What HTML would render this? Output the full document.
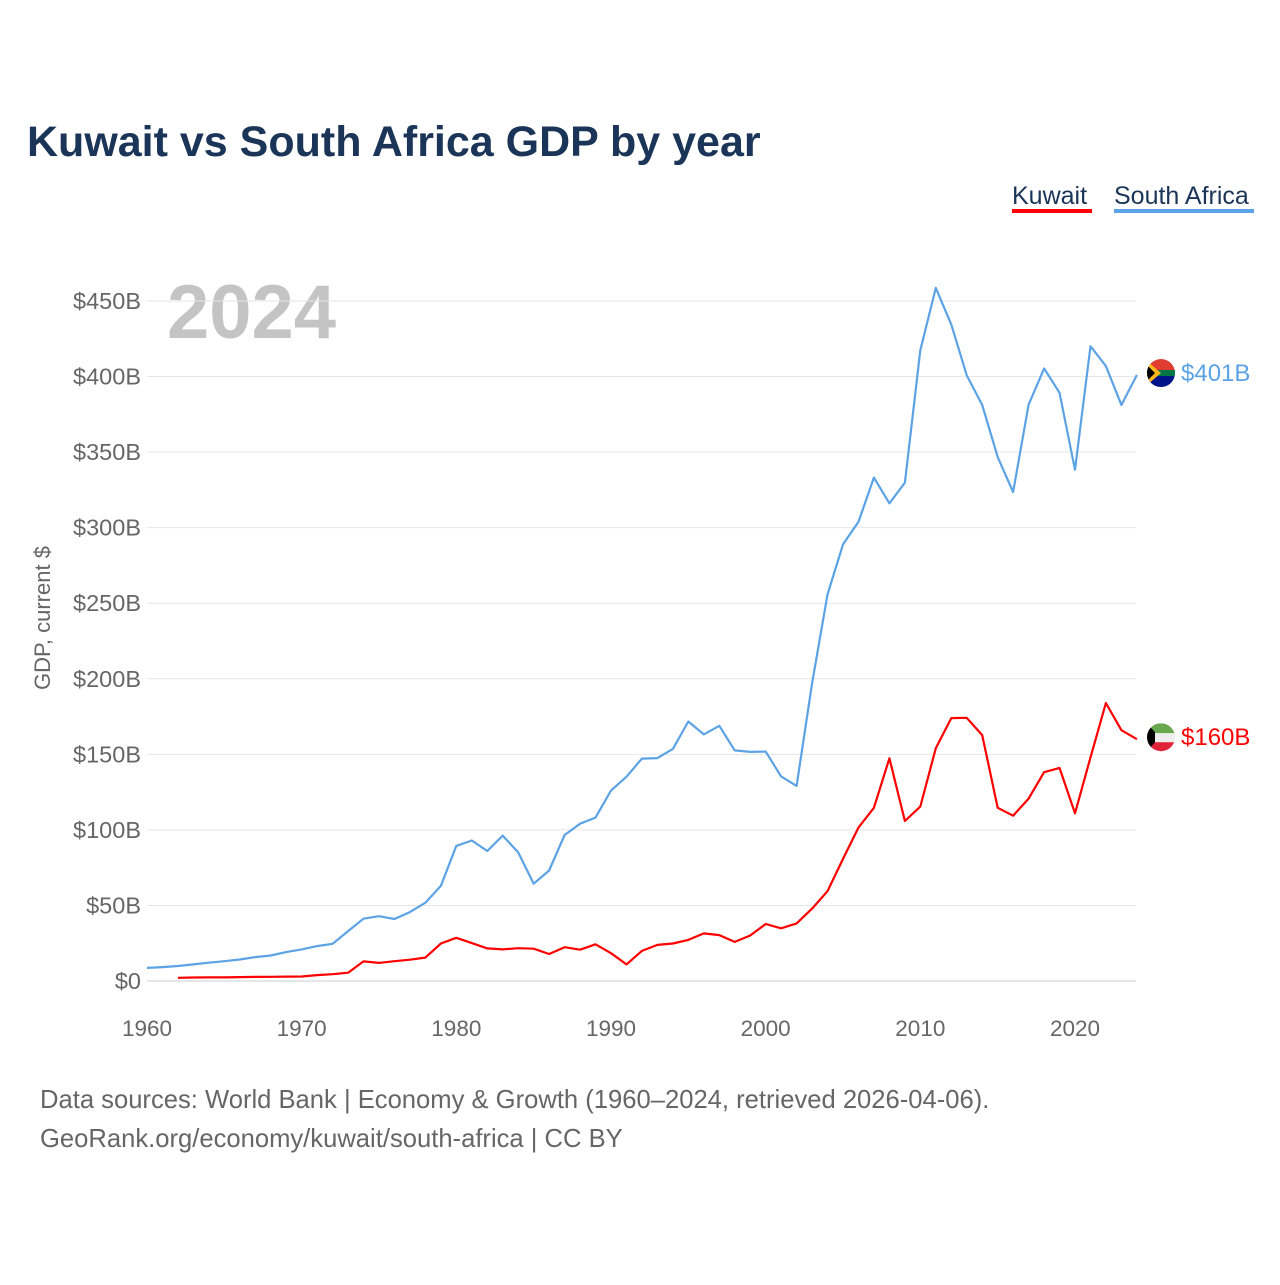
<!DOCTYPE html>
<html><head><meta charset="utf-8"><style>
body{margin:0;background:#fff;font-family:"Liberation Sans",sans-serif}
svg text{font-family:"Liberation Sans",sans-serif}
</style></head><body>
<svg id="c" width="1280" height="1280" xmlns="http://www.w3.org/2000/svg">
<text x="27" y="156" font-size="43" font-weight="bold" fill="#1a3557">Kuwait vs South Africa GDP by year</text>
<g>
<text x="1012" y="204" font-size="25" fill="#1a3557">Kuwait</text>
<rect x="1012" y="209" width="80" height="4" fill="#ff0000"/>
<text x="1114" y="204" font-size="25" fill="#1a3557">South Africa</text>
<rect x="1114" y="209" width="140" height="4" fill="#5ca3e6"/>
</g>
<text x="167" y="338" font-size="76" font-weight="bold" fill="#c4c4c4">2024</text>
<text transform="translate(50,618) rotate(-90)" text-anchor="middle" font-size="22" fill="#666">GDP, current $</text>
<g id="grid"></g><g id="yt"></g><g id="xt"></g><g id="lines"></g>
<text x="40" y="1108" font-size="25.6" fill="#666">Data sources: World Bank | Economy &amp; Growth (1960–2024, retrieved 2026-04-06).</text>
<text x="40" y="1147" font-size="25.6" fill="#666">GeoRank.org/economy/kuwait/south-africa | CC BY</text>
</svg>
<script>
const yTicks=[0,50,100,150,200,250,300,350,400,450];
const xTicks=[1960,1970,1980,1990,2000,2010,2020];
const saYears=[];for(let y=1960;y<=2024;y++)saYears.push(y);
const saValues=[8.7,9.2,9.9,11.0,12.1,13.1,14.2,15.8,16.9,19.1,20.9,23.1,24.6,33.0,41.2,42.9,41.0,45.6,51.8,63.0,89.4,93.0,86.0,96.2,85.1,64.4,73.1,96.6,104.1,108.1,126.0,135.2,147.2,147.5,153.6,171.7,163.2,168.9,152.6,151.6,151.8,135.4,129.1,197.0,255.8,288.9,303.9,333.1,316.1,329.8,417.4,458.7,434.4,400.9,381.2,346.7,323.6,381.4,405.3,389.3,338.3,420.1,406.9,381.2,401];
const kwYears=[];for(let y=1962;y<=2024;y++)kwYears.push(y);
const kwValues=[2.1,2.3,2.4,2.4,2.6,2.7,2.8,2.9,3.0,3.9,4.5,5.5,13.0,12.0,13.1,14.1,15.5,24.8,28.6,25.1,21.6,20.9,21.7,21.4,17.9,22.4,20.7,24.3,18.4,11.0,19.9,23.9,24.8,27.2,31.5,30.4,25.9,30.1,37.7,34.9,38.1,47.9,59.4,80.8,101.6,114.6,147.4,105.9,115.4,154.0,174.0,174.2,162.7,114.6,109.4,120.7,138.2,141,111,148,184,166,160];
const NS="http://www.w3.org/2000/svg";
const X=y=>147+(y-1960)*(928/60);
const Y=v=>981-v*(680/450);
function mk(t,a,p){const e=document.createElementNS(NS,t);for(const k in a)e.setAttribute(k,a[k]);p.appendChild(e);return e;}
const g=document.getElementById('grid'),yt=document.getElementById('yt'),xt=document.getElementById('xt'),L=document.getElementById('lines');
yTicks.forEach(v=>{
 const l=mk('line',{x1:147,x2:1136,y1:Y(v),y2:Y(v),stroke:v?'#e6e6e6':'#ccc','stroke-width':1},g);
 
 
 const t=mk('text',{x:141,y:Y(v)+8,'text-anchor':'end','font-size':23.5,fill:'#666'},yt);
 t.textContent=v?'$'+v+'B':'$0';
 
 
});
xTicks.forEach(v=>{
 const t=mk('text',{x:X(v),y:1036,'text-anchor':'middle','font-size':22.5,fill:'#666'},xt);
 t.textContent=v;
 
 
});
function line(ys,vs,col,name){
 const p=mk('path',{d:vs.map((v,i)=>(i?'L':'M')+X(ys[i]).toFixed(1)+','+Y(v).toFixed(1)).join(''),fill:'none',stroke:col,'stroke-width':2.2,'stroke-linejoin':'round'},L);
 
 
}
line(saYears,saValues,'#5ca3e6','south-africa-line');
line(kwYears,kwValues,'#ff0000','kuwait-line');
function endLabel(v,col,name,flag){
 const cy=Y(v)-2,cx=1161;
 const f=mk('g',{},L);
 
 
 const id='clip'+name;
 const cp=mk('clipPath',{id:id},f);mk('circle',{cx:cx,cy:cy,r:14},cp);
 const gg=mk('g',{'clip-path':'url(#'+id+')'},f);
 if(flag==='za'){
  mk('rect',{x:cx-14,y:cy-14,width:28,height:14,fill:'#e03c31'},gg);
  mk('rect',{x:cx-14,y:cy,width:28,height:14,fill:'#001489'},gg);
  mk('rect',{x:cx-14,y:cy-3,width:28,height:6,fill:'#007749'},gg);
  mk('polygon',{points:`${cx-14},${cy-12} ${cx},${cy} ${cx-14},${cy+12}`,fill:'#ffb81c'},gg);
  mk('polygon',{points:`${cx-14},${cy-8} ${cx-6},${cy} ${cx-14},${cy+8}`,fill:'#000'},gg);
 }else{
  mk('rect',{x:cx-14,y:cy-14,width:28,height:10,fill:'#6aa84f'},gg);
  mk('rect',{x:cx-14,y:cy-4,width:28,height:9,fill:'#eee'},gg);
  mk('rect',{x:cx-14,y:cy+5,width:28,height:10,fill:'#e0243a'},gg);
  mk('polygon',{points:`${cx-14},${cy-14} ${cx-6},${cy-5} ${cx-6},${cy+5} ${cx-14},${cy+14}`,fill:'#000'},gg);
 }
 const t=mk('text',{x:1181,y:cy+8,'font-size':24,fill:col},L);
 t.textContent='$'+Math.round(v)+'B';
 
 
}
endLabel(saValues[saValues.length-1],'#5ca3e6','south-africa','za');
endLabel(kwValues[kwValues.length-1],'#ff0000','kuwait','kw');
</script>
</body></html>
